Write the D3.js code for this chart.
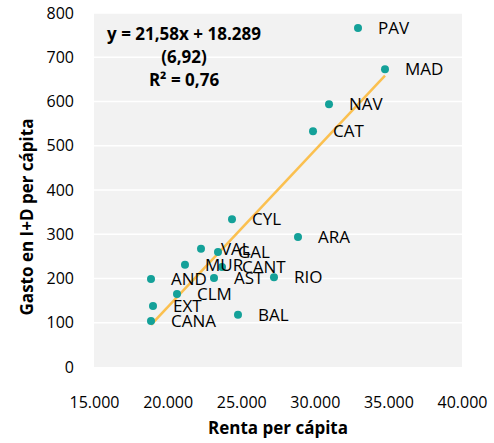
<!DOCTYPE html>
<html>
<head>
<meta charset="utf-8">
<script src="https://cdn.jsdelivr.net/npm/d3@7"></script>
<style>
  body { margin: 0; background: #fff; }
  svg { font-family: "Open Sans", "Noto Sans", sans-serif; }
</style>
</head>
<body>
<svg width="494" height="443"></svg>
<script>
// regiones
const regions = ["PAV", "MAD", "NAV", "CAT", "CYL", "ARA", "VAL", "GAL", "MUR", "CANT",
                 "AST", "AND", "RIO", "CLM", "EXT", "CANA", "BAL"];
// renta per capita
const renta = [32935, 34769, 30965, 29878, 24375, 28858, 22269, 23423, 21181, 23695,
               23152, 18872, 27227, 20638, 19008, 18872, 24782];
// gasto en I+D per capita
const gasto = [766, 673, 594, 533, 334, 294, 267, 260, 231, 226,
               201, 199, 203, 165, 138, 104, 118];
const xTicks = [15000, 20000, 25000, 30000, 35000, 40000];
const yTicks = [0, 100, 200, 300, 400, 500, 600, 700, 800];
const eqLines = ["y = 21,58x + 18.289", "(6,92)", "R² = 0,76"];

const svg = d3.select("svg");
const margin = {top: 13, right: 32, bottom: 76, left: 94};
const width = 494, height = 443;
const innerWidth = width - margin.left - margin.right;
const innerHeight = height - margin.top - margin.bottom;

const g = svg.append("g").attr("transform", `translate(${margin.left},${margin.top})`);

const x = d3.scaleLinear().domain([15000, 40000]).range([0, innerWidth]);
const y = d3.scaleLinear().domain([0, 800]).range([innerHeight, 0]);

const fmt = d3.formatLocale({decimal: ",", thousands: ".", grouping: [3], currency: ["", ""]}).format(",d");

// plot background
g.append("rect")
  .attr("width", innerWidth).attr("height", innerHeight)
  .attr("fill", "#f2f2f2");

// horizontal gridlines
g.selectAll(".grid").data(yTicks.slice(1)).enter().append("line")
  .attr("x1", 0).attr("x2", innerWidth)
  .attr("y1", d => y(d)).attr("y2", d => y(d))
  .attr("stroke", "#fff").attr("stroke-width", 1.5);

// y axis
const yAxis = g.append("g")
  .call(d3.axisLeft(y).tickValues(yTicks).tickSize(0).tickPadding(20));
yAxis.select(".domain").remove();
yAxis.selectAll("text").attr("font-size", 16).attr("fill", "#000")
  .style("font-family", "'Open Sans', 'Noto Sans', sans-serif");

// x axis
const xAxis = g.append("g")
  .attr("transform", `translate(0,${innerHeight})`)
  .call(d3.axisBottom(x).tickValues(xTicks).tickSize(0).tickPadding(30).tickFormat(fmt));
xAxis.select(".domain").remove();
xAxis.selectAll("text").attr("font-size", 16).attr("fill", "#000")
  .style("font-family", "'Open Sans', 'Noto Sans', sans-serif");

// axis titles
svg.append("text")
  .attr("x", margin.left + innerWidth / 2).attr("y", 434)
  .attr("text-anchor", "middle").attr("font-size", 17).attr("font-weight", "bold")
  .attr("fill", "#000").text("Renta per cápita");
svg.append("text")
  .attr("transform", `translate(33,${margin.top + innerHeight / 2 + 27}) rotate(-90)`)
  .attr("text-anchor", "middle").attr("font-size", 17).attr("font-weight", "bold")
  .attr("fill", "#000").text("Gasto en I+D per cápita");

// linear trend (least squares)
const mx = d3.mean(renta), my = d3.mean(gasto);
const slope = d3.sum(renta, (d, i) => (d - mx) * (gasto[i] - my)) /
              d3.sum(renta, d => (d - mx) * (d - mx));
const icpt = my - slope * mx;
const [x0, x1] = d3.extent(renta);
g.append("line")
  .attr("x1", x(x0)).attr("y1", y(slope * x0 + icpt))
  .attr("x2", x(x1)).attr("y2", y(slope * x1 + icpt))
  .attr("stroke", "#fbc04f").attr("stroke-width", 2.5);

// points
g.selectAll("circle").data(regions).enter().append("circle")
  .attr("cx", (d, i) => x(renta[i]))
  .attr("cy", (d, i) => y(gasto[i]))
  .attr("r", 4)
  .attr("fill", "#14a199");

// labels
g.selectAll(".lbl").data(regions).enter().append("text")
  .attr("x", (d, i) => x(renta[i]) + 20)
  .attr("y", (d, i) => y(gasto[i]) + 6)
  .attr("font-size", 17).attr("fill", "#000")
  .text(d => d);

// equation
svg.selectAll(".eq").data(eqLines).enter().append("text")
  .attr("x", 184)
  .attr("y", (d, i) => 40 + i * 23)
  .attr("text-anchor", "middle").attr("font-size", 17).attr("font-weight", "bold")
  .attr("fill", "#000")
  .text(d => d);
</script>
</body>
</html>
